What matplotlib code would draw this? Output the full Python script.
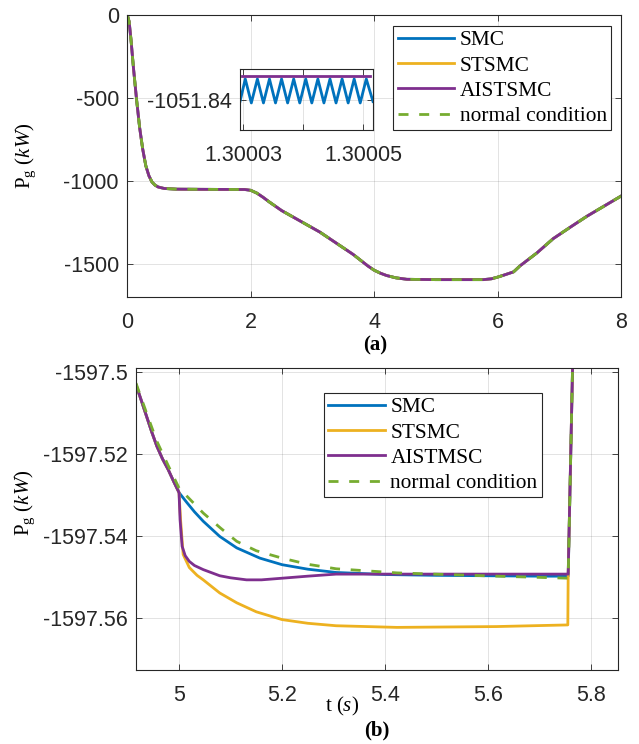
import numpy as np
import matplotlib
matplotlib.use('Agg')
import matplotlib.pyplot as plt
from matplotlib.font_manager import FontProperties

plt.rcParams['mathtext.fontset'] = 'custom'
plt.rcParams['mathtext.rm'] = 'Liberation Serif'
plt.rcParams['mathtext.it'] = 'Liberation Serif:italic'
plt.rcParams['mathtext.bf'] = 'Liberation Serif:bold'

# ---------------- data ----------------
labels_a = ['SMC', 'STSMC', 'AISTSMC', 'normal condition']
labels_b = ['SMC', 'STSMC', 'AISTMSC', 'normal condition']
colors = ['#0072BD', '#EDB120', '#7E2F8E', '#77AC30']

# panel (a): all controllers coincide at this scale
t_a = [0, 0.03, 0.06, 0.1, 0.15, 0.2, 0.25, 0.3, 0.35, 0.4, 0.45, 0.5, 0.6, 0.8,
       1.2, 1.8, 1.9, 2.0, 2.1, 2.2, 2.3, 2.5, 3.12, 3.66, 3.9, 4.0, 4.1, 4.2,
       4.35, 4.53, 5.0, 5.77, 5.9, 6.0, 6.1, 6.26, 6.36, 6.64, 6.9, 7.18, 7.45, 8.0]
pg_a = [0, -40, -150, -320, -510, -680, -810, -910, -970, -1008, -1027, -1038,
        -1047, -1051, -1052, -1053, -1053, -1058, -1075, -1100, -1128, -1180,
        -1310, -1445, -1515, -1540, -1558, -1572, -1586, -1595, -1597, -1597,
        -1592, -1582, -1570, -1550, -1515, -1435, -1350, -1280, -1214, -1093]

# inset (zoom near t = 1.30003 s), time offsets in microseconds from 1.30003 s
inset_t0 = 1.30003
inset_smc_us = [-0.5, 0.38, 1.39, 2.40, 3.41, 4.41, 5.42, 6.43, 7.44, 8.45, 9.46,
                10.46, 11.47, 12.48, 13.49, 14.50, 15.51, 16.52, 17.53, 18.53,
                19.54, 20.55, 21.67]
inset_smc = [-1051.8401, -1051.83899, -1051.84017, -1051.83899, -1051.84017,
             -1051.83899, -1051.84017, -1051.83899, -1051.84017, -1051.83899,
             -1051.84017, -1051.83899, -1051.84017, -1051.83899, -1051.84017,
             -1051.83899, -1051.84017, -1051.83899, -1051.84017, -1051.83899,
             -1051.84017, -1051.83899, -1051.8401]
inset_ais_us = [-0.2, 21.1]
inset_ais = [-1051.83884, -1051.83884]

# panel (b)
smc_t = [4.9165, 4.927, 4.937, 4.947, 4.957, 4.968, 4.979, 4.99, 5.0, 5.015, 5.03,
         5.047, 5.079, 5.112, 5.157, 5.2, 5.25, 5.305, 5.4, 5.5, 5.6, 5.7, 5.7553,
         5.7638, 5.8]
smc_p = [-1597.5031, -1597.507, -1597.5108, -1597.5146, -1597.5181, -1597.5212,
         -1597.5238, -1597.5268, -1597.5294, -1597.5318, -1597.5341, -1597.5364,
         -1597.5401, -1597.5429, -1597.5454, -1597.5470, -1597.5481, -1597.5489,
         -1597.5494, -1597.5496, -1597.5497, -1597.5498, -1597.5498, -1597.499,
         -1597.28]

sts_t = [4.9165, 4.927, 4.937, 4.947, 4.957, 4.968, 4.979, 4.99, 5.0, 5.003, 5.008,
         5.02, 5.035, 5.047, 5.079, 5.112, 5.15, 5.2, 5.25, 5.305, 5.423, 5.616,
         5.7546, 5.7553, 5.7638, 5.8]
sts_p = [-1597.5031, -1597.507, -1597.5108, -1597.5146, -1597.5181, -1597.5212,
         -1597.5238, -1597.5268, -1597.5294, -1597.536, -1597.5445, -1597.5477,
         -1597.5496, -1597.5507, -1597.5539, -1597.5563, -1597.5585, -1597.5604,
         -1597.5613, -1597.5619, -1597.5623, -1597.5621, -1597.5617, -1597.5493,
         -1597.499, -1597.28]

ais_t = [4.9165, 4.927, 4.937, 4.947, 4.957, 4.968, 4.979, 4.99, 5.0, 5.002, 5.006,
         5.012, 5.02, 5.03, 5.047, 5.079, 5.1, 5.131, 5.16, 5.2, 5.25, 5.305, 5.5,
         5.7553, 5.7638, 5.8]
ais_p = [-1597.5031, -1597.507, -1597.5108, -1597.5146, -1597.5181, -1597.5212,
         -1597.5238, -1597.5268, -1597.5294, -1597.536, -1597.5425, -1597.5448,
         -1597.5462, -1597.5472, -1597.5482, -1597.5497, -1597.5502, -1597.5507,
         -1597.5507, -1597.5503, -1597.5498, -1597.5493, -1597.5493, -1597.5493,
         -1597.499, -1597.28]

nc_t = [4.9165, 4.937, 4.957, 4.979, 5.0, 5.047, 5.08, 5.112, 5.15, 5.2, 5.25,
        5.305, 5.423, 5.616, 5.7553, 5.7638, 5.8]
nc_p = [-1597.5027, -1597.510, -1597.5169, -1597.5228, -1597.5283, -1597.5344,
        -1597.538, -1597.5413, -1597.5436, -1597.5454, -1597.5469, -1597.5480,
        -1597.5490, -1597.5498, -1597.5503, -1597.499, -1597.28]

xticks_a = [0, 2, 4, 6, 8]
yticks_a = [0, -500, -1000, -1500]
xticks_b = [5, 5.2, 5.4, 5.6, 5.8]
xticklabels_b = ['5', '5.2', '5.4', '5.6', '5.8']
yticks_b = [-1597.5, -1597.52, -1597.54, -1597.56]
yticklabels_b = ['-1597.5', '-1597.52', '-1597.54', '-1597.56']

# ---------------- figure ----------------
W, H = 639, 744
fig = plt.figure(figsize=(W / 100, H / 100), dpi=100)


def rect(l, t, r, b):
    return [l / W, 1 - b / H, (r - l) / W, (b - t) / H]


SANS = 'Liberation Sans'
SERIF = 'Liberation Serif'
EDGE = '#262626'


def style(ax, size=15.5):
    ax.tick_params(direction='in', length=4, width=0.6, colors=EDGE,
                   labelsize=size, top=True, right=True)
    ax.tick_params(axis='x', pad=11)
    ax.tick_params(axis='y', pad=6)
    for s in ax.spines.values():
        s.set_color(EDGE)
        s.set_linewidth(0.8)
    ax.grid(True, color=EDGE, alpha=0.15, lw=0.6)
    ax.set_axisbelow(True)
    for lab in ax.get_xticklabels() + ax.get_yticklabels():
        lab.set_family(SANS)
        lab.set_color('#262626')


LW = 2.0
DASH = (0, (3.6, 3.85))

ax1 = fig.add_axes(rect(127.3, 15, 621, 296.7))
styles = ['-', '-', '-', DASH]
h = []
for c, ls, lab in zip(colors, styles, labels_a):
    ln, = ax1.plot(t_a, pg_a, color=c, lw=LW, ls=ls, label=lab)
    h.append(ln)
ax1.set_xlim(0, 8)
ax1.set_ylim(-1700, 0)
ax1.set_xticks(xticks_a)
ax1.set_yticks(yticks_a)
ax1.set_xticklabels([str(v) for v in xticks_a])
ax1.set_yticklabels([str(v) for v in yticks_a])
style(ax1)

legprops = dict(prop=FontProperties(family=SERIF, size=15.4), frameon=True,
                fancybox=False, edgecolor=EDGE, framealpha=1, borderpad=0.2,
                labelspacing=0.25, handlelength=2.65, handletextpad=0.25,
                borderaxespad=0)
leg1 = ax1.legend(handles=h, loc='upper right', bbox_to_anchor=(611 / W, 1 - 26 / H),
                  bbox_transform=fig.transFigure, **legprops)
leg1.get_frame().set_linewidth(0.8)

# inset
axin = fig.add_axes(rect(240, 69, 373, 130))
axin.plot(inset_t0 + np.array(inset_smc_us) * 1e-6, inset_smc, color=colors[0], lw=LW)
axin.plot(inset_t0 + np.array(inset_ais_us) * 1e-6, inset_ais, color=colors[2], lw=LW)
axin.set_xlim(inset_t0 - 0.5e-6, inset_t0 + 21.67e-6)
axin.set_ylim(-1051.8415, -1051.8385)
axin.set_xticks([1.30003, 1.30004, 1.30005])
axin.set_xticklabels(['1.30003', '', '1.30005'])
axin.set_yticks([-1051.84])
axin.set_yticklabels(['-1051.84'])
style(axin)
axin.set_facecolor('white')

fig.text(26 / W, 1 - 155.5 / H, r'P$_{\mathrm{g}}$ $(kW)$', rotation=90, ha='center',
         va='center', family=SERIF, size=15)
fig.text(375 / W, 1 - 345 / H, '(a)', ha='center', va='center', family=SERIF,
         size=15, weight='bold')

# panel (b)
ax2 = fig.add_axes(rect(136, 368, 618, 670))
h2 = []
for (tt, pp), c, ls, lab in zip([(smc_t, smc_p), (sts_t, sts_p), (ais_t, ais_p), (nc_t, nc_p)],
                                colors, styles, labels_b):
    ln, = ax2.plot(tt, pp, color=c, lw=LW, ls=ls, label=lab)
    h2.append(ln)
ax2.set_xlim(4.9165, 5.852)
ax2.set_ylim(-1597.5727, -1597.499)
ax2.set_xticks(xticks_b)
ax2.set_xticklabels(xticklabels_b)
ax2.set_yticks(yticks_b)
ax2.set_yticklabels(yticklabels_b)
style(ax2)
leg2 = ax2.legend(handles=h2, loc='upper left', bbox_to_anchor=(324 / W, 1 - 393 / H),
                  bbox_transform=fig.transFigure, **legprops)
leg2.get_frame().set_linewidth(0.8)

fig.text(25 / W, 1 - 503 / H, r'P$_{\mathrm{g}}$ $(kW)$', rotation=90, ha='center',
         va='center', family=SERIF, size=15)
fig.text(342 / W, 1 - 706 / H, r't $(s)$', ha='center', va='center', family=SERIF, size=15)
fig.text(377 / W, 1 - 730 / H, '(b)', ha='center', va='center', family=SERIF,
         size=15, weight='bold')

fig.savefig('out.png', dpi=100)
